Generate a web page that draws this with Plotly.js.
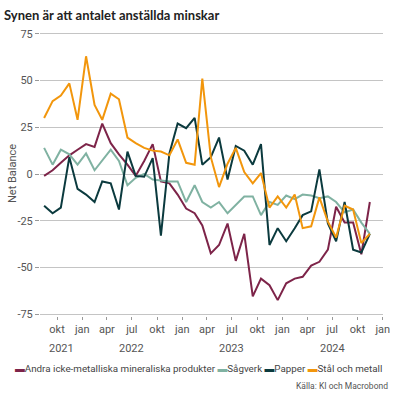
<!DOCTYPE html>
<html>
<head>
<meta charset="utf-8">
<script src="https://cdn.plot.ly/plotly-3.0.1.min.js"></script>
<style>
  html, body { margin: 0; padding: 0; background: #fff; }
  #chart { width: 397px; height: 397px; }
</style>
</head>
<body>
<div id="chart"></div>
<script>
// Monthly observations (mid-month), Aug 2021 – Nov 2024
const months = [
  '2021-08-15','2021-09-15','2021-10-15','2021-11-15','2021-12-15',
  '2022-01-15','2022-02-15','2022-03-15','2022-04-15','2022-05-15','2022-06-15',
  '2022-07-15','2022-08-15','2022-09-15','2022-10-15','2022-11-15','2022-12-15',
  '2023-01-15','2023-02-15','2023-03-15','2023-04-15','2023-05-15','2023-06-15',
  '2023-07-15','2023-08-15','2023-09-15','2023-10-15','2023-11-15','2023-12-15',
  '2024-01-15','2024-02-15','2024-03-15','2024-04-15','2024-05-15','2024-06-15',
  '2024-07-15','2024-08-15','2024-09-15','2024-10-15','2024-11-15'
];

const andra = [-1, 2, 6, 10, 13, 16, 14.5, 27, 16.5, 10.5, 5, -1, 7, 16, -4, -5, -11, -18.5, -21, -27.5,
  -42.5, -38, -26.5, -46.5, -32, -65.5, -56, -59.5, -67.5, -58.5, -56, -55, -49, -47, -40.5, -17.5, -26, -26, -43, -15];

const sagverk = [14, 5, 13, 10.5, 5, 11, 2, 7, 13, 7, -6, -2, 0, -3, -3.5, -4, -4, -15, -6, -15,
  -18, -15, -21, -16.5, -12, -12, -22, -15, -16.5, -11.5, -13.5, -11, -11.5, -13, -12, -15, -20.5, -19, -26, -32];

const papper = [-17, -21, -18, 9, -8, -11, -15, -4, -5, -19, 12, -1, -1.5, 8.5, -33, 11, 27, 24.5, 30, 5,
  9, 19.5, -3, 15, 12.5, 5, 16, -38, -29, -36, -29, -22, -20, 2.5, -26.5, -36, -15, -40.5, -42, -32];

const stal = [30, 39, 42, 48.5, 29, 63, 37, 29, 43, 40, 19.5, 16.5, 14, 12.5, 12, 10, 18.5, 6, 5, 51,
  9, -7, 5.5, 14, 1, -5, 0.5, -18, -12, -18, -11, -29, -28, -12.5, -25.5, -34, -17, -19, -37, -32];

const seriesNames = ['Andra icke-metalliska mineraliska produkter', 'Sågverk', 'Papper', 'Stål och metall'];
const seriesColors = ['#7d2449', '#80b2a2', '#0b3a3e', '#f2960c'];

const xTickVals = ['2021-10-01','2022-01-01','2022-04-01','2022-07-01','2022-10-01','2023-01-01','2023-04-01',
  '2023-07-01','2023-10-01','2024-01-01','2024-04-01','2024-07-01','2024-10-01','2025-01-01'];
const xTickText = ['okt','jan','apr','jul','okt','jan','apr','jul','okt','jan','apr','jul','okt','jan'];

const yearLabels = ['2021', '2022', '2023', '2024'];
const yearPositions = ['2021-10-16', '2022-07-01', '2023-07-01', '2024-07-01'];

const yTickVals = [75, 50, 25, 0, -25, -50, -75];
const yTickText = ['75', '50', '25', '0', '-25', '-50', '-75'];

const FONT = 'Roboto, "Noto Sans", sans-serif';
const GREY = '#555555';

const allValues = [andra, sagverk, papper, stal];
const traces = allValues.map((vals, k) => ({
  type: 'scatter',
  mode: 'lines',
  x: months,
  y: vals,
  name: seriesNames[k],
  line: { color: seriesColors[k], width: 2 },
  showlegend: false,
  hoverinfo: 'x+y+name'
}));

const L = 40, R = 14, T = 32, B = 81;
const plotW = 397 - L - R, plotH = 397 - T - B;
const px = (p) => (p - L) / plotW;
const py = (p) => (397 - B - p) / plotH;

const legendText = seriesNames.map((n, k) =>
  '<span style="color:' + seriesColors[k] + '">▬</span>' + n).join(' ');

const annotations = yearLabels.map((yr, k) => ({
  text: yr, x: yearPositions[k], xref: 'x', y: py(348), yref: 'paper',
  xanchor: 'center', yanchor: 'middle', showarrow: false,
  font: { family: FONT, size: 11, color: GREY }
}));
annotations.push({
  text: legendText, x: px(198), xref: 'paper', y: py(368), yref: 'paper',
  xanchor: 'center', yanchor: 'middle', showarrow: false,
  font: { family: FONT, size: 9.8, color: '#444' }
});
annotations.push({
  text: 'Källa: KI och Macrobond', x: px(390), xref: 'paper', y: py(386), yref: 'paper',
  xanchor: 'right', yanchor: 'middle', showarrow: false,
  font: { family: FONT, size: 8.5, color: GREY }
});
annotations.push({
  text: 'Net Balance', x: px(12), xref: 'paper', y: py(174), yref: 'paper',
  xanchor: 'center', yanchor: 'middle', textangle: -90, showarrow: false,
  font: { family: FONT, size: 11, color: GREY }
});

const layout = {
  width: 397, height: 397,
  margin: { l: L, r: R, t: T, b: B },
  paper_bgcolor: '#ffffff', plot_bgcolor: '#ffffff',
  title: {
    text: '<b>Synen är att antalet anställda minskar</b>',
    x: 4 / 397, xref: 'container', xanchor: 'left',
    y: 1 - 15 / 397, yref: 'container', yanchor: 'middle',
    font: { family: 'Lato, Roboto, sans-serif', size: 13, color: '#222' }
  },
  xaxis: {
    type: 'date',
    range: ['2021-07-31', '2025-01-02'],
    tickvals: xTickVals, ticktext: xTickText,
    ticks: 'outside', ticklen: 3, tickcolor: '#999', tickwidth: 1,
    showgrid: false, zeroline: false, showline: false,
    tickfont: { family: FONT, size: 11, color: GREY }
  },
  yaxis: {
    range: [-76, 76],
    tickvals: yTickVals, ticktext: yTickText,
    ticks: 'outside', ticklen: 4, tickcolor: '#999', tickwidth: 1,
    showgrid: true, gridcolor: '#c4c4c4', gridwidth: 1,
    zeroline: false, showline: false,
    tickfont: { family: FONT, size: 11, color: GREY }
  },
  annotations: annotations,
  showlegend: false
};

Plotly.newPlot('chart', traces, layout, { displayModeBar: false, staticPlot: true });
</script>
</body>
</html>
